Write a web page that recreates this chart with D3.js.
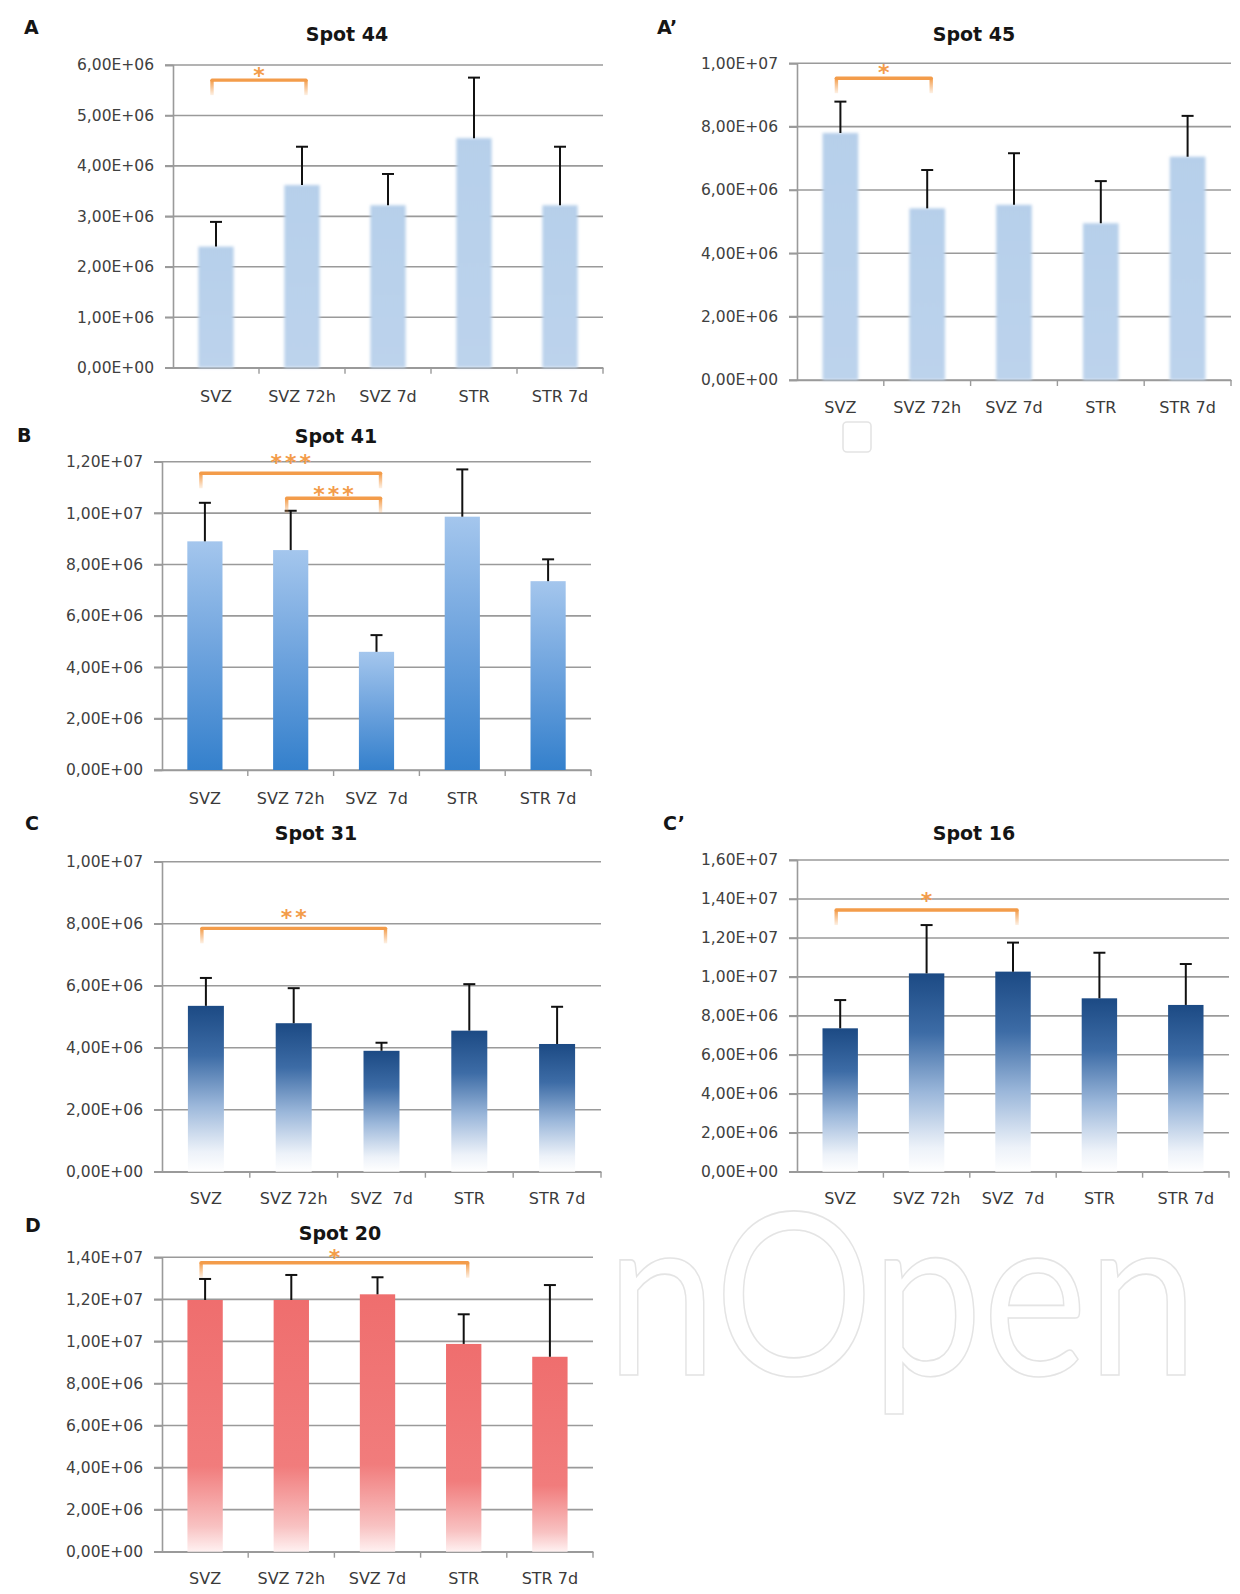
<!DOCTYPE html>
<html><head><meta charset="utf-8">
<script src="https://cdn.jsdelivr.net/npm/d3@7"></script>
<style>
body{margin:0;background:#fff;}
svg text{font-family:"DejaVu Sans",sans-serif;white-space:pre;}
</style></head><body>
<svg id="c" width="1240" height="1594"></svg>
<script>
// ---------- data ----------
const categories = ["SVZ", "SVZ 72h", "SVZ 7d", "STR", "STR 7d"];
const categoriesWide = ["SVZ", "SVZ 72h", "SVZ  7d", "STR", "STR 7d"];

const spot44Mean = [2.40e6, 3.62e6, 3.22e6, 4.55e6, 3.22e6];
const spot44Sd   = [0.49e6, 0.76e6, 0.62e6, 1.20e6, 1.16e6];
const spot44Brackets = [[0, 1, 5.70e6, "*"]];

const spot45Mean = [7.80e6, 5.42e6, 5.53e6, 4.95e6, 7.05e6];
const spot45Sd   = [0.99e6, 1.21e6, 1.63e6, 1.33e6, 1.29e6];
const spot45Brackets = [[0, 1, 9.53e6, "*"]];

const spot41Mean = [8.90e6, 8.56e6, 4.60e6, 9.86e6, 7.35e6];
const spot41Sd   = [1.50e6, 1.53e6, 0.65e6, 1.84e6, 0.85e6];
const spot41Brackets = [[0, 2, 11.55e6, "***"], [1, 2, 10.58e6, "***"]];

const spot31Mean = [5.35e6, 4.79e6, 3.90e6, 4.55e6, 4.12e6];
const spot31Sd   = [0.90e6, 1.13e6, 0.26e6, 1.50e6, 1.20e6];
const spot31Brackets = [[0, 2, 7.85e6, "**"]];

const spot16Mean = [7.36e6, 10.18e6, 10.27e6, 8.90e6, 8.56e6];
const spot16Sd   = [1.45e6, 2.48e6, 1.49e6, 2.34e6, 2.10e6];
const spot16Brackets = [[0, 2, 13.43e6, "*"]];

const spot20Mean = [11.97e6, 11.97e6, 12.24e6, 9.88e6, 9.27e6];
const spot20Sd   = [1.00e6, 1.19e6, 0.81e6, 1.41e6, 3.41e6];
const spot20Brackets = [[0, 3, 13.74e6, "*"]];

// ---------- layout ----------
const panels = [
  {letter:"A",  title:"Spot 44", cats:categories,     mean:spot44Mean, sd:spot44Sd, br:spot44Brackets, yMax:6e6,   step:1e6, fill:"url(#gLight)", blur:true,
   x0:173, x1:603, yT:65, yB:367.7, catY:402, lx:24, ly:34, tx:347, ty:41, starOff:[9]},
  {letter:"A\u2019", title:"Spot 45", cats:categories, mean:spot45Mean, sd:spot45Sd, br:spot45Brackets, yMax:1e7, step:2e6, fill:"url(#gLight)", blur:true,
   x0:797, x1:1231, yT:63.3, yB:380, catY:413, lx:657, ly:34, tx:974, ty:41, starOff:[10]},
  {letter:"B",  title:"Spot 41", cats:categoriesWide, mean:spot41Mean, sd:spot41Sd, br:spot41Brackets, yMax:1.2e7, step:2e6, fill:"url(#gBlue)",
   x0:162, x1:591, yT:461.7, yB:770, catY:804, lx:17, ly:442, tx:336, ty:443, starOff:[15, 8]},
  {letter:"C",  title:"Spot 31", cats:categoriesWide, mean:spot31Mean, sd:spot31Sd, br:spot31Brackets, yMax:1e7,   step:2e6, fill:"url(#gNavy)",
   x0:162, x1:601, yT:861.7, yB:1171.7, catY:1204, lx:25, ly:830, tx:316, ty:840, starOff:[15]},
  {letter:"C\u2019", title:"Spot 16", cats:categoriesWide, mean:spot16Mean, sd:spot16Sd, br:spot16Brackets, yMax:1.6e7, step:2e6, fill:"url(#gNavy)",
   x0:797, x1:1229, yT:860, yB:1171.7, catY:1204, lx:663, ly:830, tx:974, ty:840, starOff:[14]},
  {letter:"D",  title:"Spot 20", cats:categories,     mean:spot20Mean, sd:spot20Sd, br:spot20Brackets, yMax:1.4e7, step:2e6, fill:"url(#gRed)",
   x0:162, x1:593, yT:1257.3, yB:1551.7, catY:1584, lx:25, ly:1232, tx:340, ty:1240, starOff:[10]}
];

function sci(v){
  if (v === 0) return "0,00E+00";
  const e = Math.floor(Math.log10(v) + 1e-9);
  const m = v / Math.pow(10, e);
  return m.toFixed(2).replace(".", ",") + "E+" + String(e).padStart(2, "0");
}

const svg = d3.select("#c");
const defs = svg.append("defs");
function grad(id, stops){
  const g = defs.append("linearGradient").attr("id", id).attr("x1",0).attr("y1",0).attr("x2",0).attr("y2",1);
  stops.forEach(s => g.append("stop").attr("offset", s[0]).attr("stop-color", s[1]));
}
grad("gLight", [[0,"#b6cfea"],[1,"#bcd3ec"]]);
grad("gBlue",  [[0,"#a4c6ed"],[0.5,"#6ca2dd"],[1,"#3480cc"]]);
grad("gNavy",  [[0,"#1c4a84"],[0.3,"#3d6ca6"],[0.6,"#9bb7da"],[0.88,"#edf2f9"],[1,"#ffffff"]]);
grad("gRed",   [[0,"#ef6e6e"],[0.66,"#f17c7c"],[0.9,"#f8c2c2"],[1,"#fff1f1"]]);
grad("gLeg",   [[0,"#f39c4a"],[1,"rgba(243,156,74,0.15)"]]);
defs.append("filter").attr("id","soft").attr("x","-20%").attr("y","-5%").attr("width","140%").attr("height","110%")
  .append("feGaussianBlur").attr("stdDeviation", 1.6);

// watermark (behind charts)
const wm = svg.append("g").attr("fill","none").attr("stroke","#e4e4e4").attr("stroke-width",1.6);
wm.append("text").attr("x",606).attr("y",1375).attr("font-size",228)
  .attr("textLength",592).attr("lengthAdjust","spacingAndGlyphs").style("font-family","Lato").text("nOpen");
wm.append("rect").attr("x",843).attr("y",422).attr("width",28).attr("height",30).attr("rx",4);

const orange = "#f39c4a";

panels.forEach(p => {
  const g = svg.append("g");
  const x = d3.scaleBand().domain(p.cats).range([p.x0, p.x1]).paddingInner(0).paddingOuter(0);
  const y = d3.scaleLinear().domain([0, p.yMax]).range([p.yB, p.yT]);
  const ticks = d3.range(0, p.yMax + p.step / 2, p.step);

  // gridlines
  g.append("g").selectAll("line").data(ticks).join("line")
    .attr("x1", p.x0 - 8).attr("x2", p.x1).attr("y1", d => y(d)).attr("y2", d => y(d))
    .attr("stroke", "#9a9a9a").attr("stroke-width", 1.6);
  // y axis
  const ya = g.append("g").attr("transform", `translate(${p.x0},0)`)
    .call(d3.axisLeft(y).tickValues(ticks).tickFormat(sci).tickSize(8).tickPadding(11));
  ya.select(".domain").attr("stroke","#9a9a9a").attr("stroke-width",1.6);
  ya.selectAll(".tick line").attr("stroke","#9a9a9a").attr("stroke-width",1.6);
  ya.selectAll(".tick text").attr("font-size",15.5).attr("fill","#404040").style("font-family","DejaVu Sans");

  // x axis
  const xa = g.append("g").attr("transform", `translate(0,${p.yB})`)
    .call(d3.axisBottom(x).tickSize(0).tickPadding(0));
  xa.select(".domain").attr("stroke","#9a9a9a").attr("stroke-width",1.6);
  xa.selectAll(".tick text").attr("font-size",16).attr("fill","#3a3a3a").attr("dy",0)
    .attr("y", p.catY - p.yB).style("font-family","DejaVu Sans");
  // band boundary ticks
  g.append("g").selectAll("line").data(p.cats.slice(1).concat(["__end"])).join("line")
    .attr("x1", (d,i) => i < p.cats.length - 1 ? x(d) : p.x1)
    .attr("x2", (d,i) => i < p.cats.length - 1 ? x(d) : p.x1)
    .attr("y1", p.yB).attr("y2", p.yB + 6).attr("stroke","#9a9a9a").attr("stroke-width",1.4);

  // bars
  const bw = x.bandwidth() * 0.41;
  const bars = g.append("g");
  if (p.blur) bars.attr("filter","url(#soft)");
  bars.selectAll("rect").data(p.mean).join("rect")
    .attr("x", (d,i) => x(p.cats[i]) + x.bandwidth()/2 - bw/2)
    .attr("width", bw)
    .attr("y", d => y(d))
    .attr("height", d => p.yB - y(d))
    .attr("fill", p.fill);

  // error bars
  const eb = g.append("g").attr("stroke","#111").attr("stroke-width",2);
  p.mean.forEach((m, i) => {
    const cx = x(p.cats[i]) + x.bandwidth()/2;
    eb.append("line").attr("x1",cx).attr("x2",cx).attr("y1",y(m)).attr("y2",y(m + p.sd[i]));
    eb.append("line").attr("x1",cx-6).attr("x2",cx+6).attr("y1",y(m + p.sd[i])).attr("y2",y(m + p.sd[i]));
  });

  // significance brackets
  p.br.forEach((b, k) => {
    const xa1 = x(p.cats[b[0]]) + x.bandwidth()/2 - 4;
    const xa2 = x(p.cats[b[1]]) + x.bandwidth()/2 + 4;
    const yy = y(b[2]);
    const bg = g.append("g");
    bg.append("line").attr("x1",xa1).attr("x2",xa2).attr("y1",yy).attr("y2",yy)
      .attr("stroke",orange).attr("stroke-width",3.4).attr("stroke-linecap","round");
    [xa1, xa2].forEach(xx => {
      bg.append("rect").attr("x",xx-1.7).attr("y",yy).attr("width",3.4).attr("height",15)
        .attr("fill","url(#gLeg)");
    });
    const fs = 22, ls = 3;
    const off = p.starOff[k];
    bg.append("text").attr("x",(xa1+xa2)/2 + ls/2).attr("y",yy - off + 0.545*fs)
      .attr("text-anchor","middle").attr("letter-spacing", ls)
      .attr("font-size",fs).attr("font-weight","bold").attr("fill",orange).text(b[3]);
  });

  // titles and panel letters
  g.append("text").attr("x",p.tx).attr("y",p.ty).attr("text-anchor","middle")
    .attr("font-size",19).attr("font-weight","bold").attr("fill","#151515").text(p.title);
  g.append("text").attr("x",p.lx).attr("y",p.ly).attr("font-size",19)
    .attr("font-weight","bold").attr("fill","#151515").text(p.letter);
});
</script>
</body></html>
